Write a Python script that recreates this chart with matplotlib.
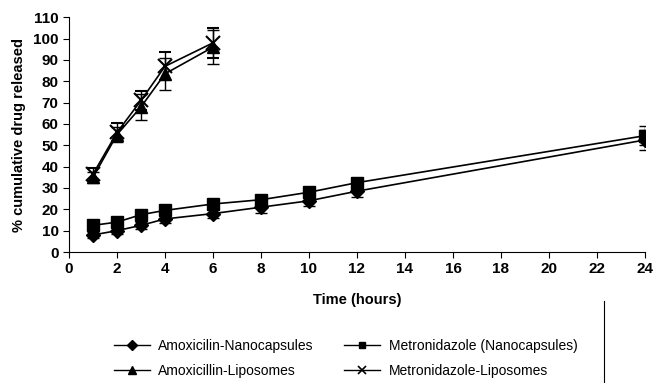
import matplotlib.pyplot as plt
from matplotlib.lines import Line2D

plt.rcParams['font.family'] = ['Liberation Sans', 'DejaVu Sans']

# time points (hours)
t_nano = [1, 2, 3, 4, 6, 8, 10, 12, 24]
t_lipo = [1, 2, 3, 4, 6]

amox_nano = [8, 10, 12.5, 15.5, 18, 21, 24, 28.5, 52.5]
amox_nano_err = [1.5, 1.5, 1.5, 2, 2, 2.5, 2.5, 2.5, 4.5]
metro_nano = [12.5, 14, 17.5, 19.5, 22.5, 24.5, 28, 32.5, 54.5]
metro_nano_err = [1.5, 1.5, 1.5, 2, 2, 2, 2, 2, 4.5]
amox_lipo = [35, 55, 68, 83.5, 96]
amox_lipo_err = [2.5, 3.5, 6, 7.5, 8]
metro_lipo = [36.5, 56, 71, 87, 98]
metro_lipo_err = [3, 4.5, 4.5, 6.5, 7]

fig = plt.figure(figsize=(6.53, 3.83), dpi=100)
ax = fig.add_axes([0.1057, 0.342, 0.882, 0.613])

kw = dict(color='black', lw=1.2, capsize=4, elinewidth=1, capthick=1)
ax.errorbar(t_nano, amox_nano, yerr=amox_nano_err, marker='D', ms=7, **kw,
            label='Amoxicilin-Nanocapsules')
ax.errorbar(t_nano, metro_nano, yerr=metro_nano_err, marker='s', ms=8, **kw,
            label='Metronidazole (Nanocapsules)')
ax.errorbar(t_lipo, amox_lipo, yerr=amox_lipo_err, marker='^', ms=9, **kw,
            label='Amoxicillin-Liposomes')
ax.errorbar(t_lipo, metro_lipo, yerr=metro_lipo_err, marker='x', ms=10, mew=1.5, **kw,
            label='Metronidazole-Liposomes')

ax.set_xlim(0, 24)
ax.set_ylim(0, 110)
ax.set_xticks(range(0, 25, 2))
ax.set_yticks(range(0, 111, 10))
for s in ['top', 'right']:
    ax.spines[s].set_visible(False)
ax.tick_params(direction='out', length=4, labelsize=11)
for lab in ax.get_xticklabels() + ax.get_yticklabels():
    lab.set_fontweight('bold')
ax.set_xlabel('Time (hours)', fontsize=10.5, fontweight='bold', labelpad=12)
ax.set_ylabel('% cumulative drug released', fontsize=10.5, fontweight='bold', labelpad=5)

h, l = ax.get_legend_handles_labels()
handles = [Line2D([], [], color='black', lw=1, marker=m, ms=s, mew=w)
           for m, s, w in [('D', 5, 1), ('s', 5, 1), ('^', 6, 1), ('x', 6, 1.2)]]
fig.legend([handles[0], handles[2], handles[1], handles[3]],
           [l[0], l[2], l[1], l[3]], ncol=2, frameon=False,
           loc='center left', bbox_to_anchor=(0.155, 0.065),
           fontsize=10, handlelength=2.6, handletextpad=0.6,
           columnspacing=2.2, labelspacing=0.8)
fig.add_artist(Line2D([0.925, 0.925], [0.0, 0.215], color='black', lw=0.8))

fig.savefig('out.png', dpi=100)
